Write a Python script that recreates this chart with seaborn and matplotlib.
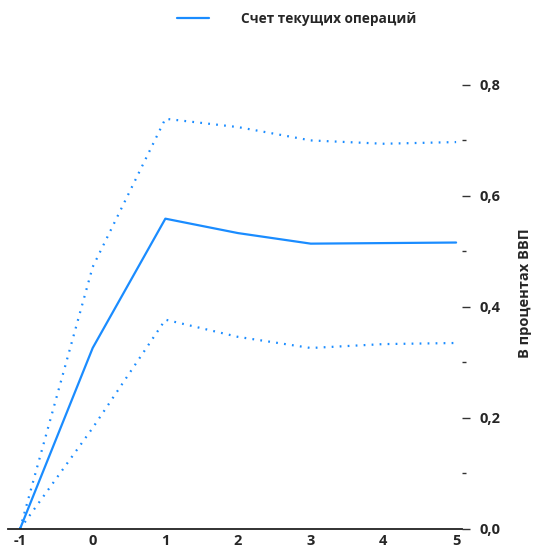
import matplotlib.pyplot as plt
import seaborn as sns
import pandas as pd

years = [-1, 0, 1, 2, 3, 4, 5]
current_account = [0.0, 0.326, 0.559, 0.533, 0.514, 0.515, 0.516]
upper_band = [0.0, 0.472, 0.739, 0.724, 0.700, 0.694, 0.697]
lower_band = [0.0, 0.182, 0.377, 0.346, 0.326, 0.333, 0.335]

y_major = [0.0, 0.2, 0.4, 0.6, 0.8]
y_minor = [0.1, 0.3, 0.5, 0.7]
y_labels = ['0,0', '0,2', '0,4', '0,6', '0,8']

sns.set_style('white')
plt.rcParams['font.family'] = ['Open Sans', 'DejaVu Sans']

data = pd.DataFrame({'year': years, 'ca': current_account,
                     'hi': upper_band, 'lo': lower_band})

blue = '#1a8cff'
fig = plt.figure(figsize=(5.34, 5.55), dpi=100)
ax = fig.add_axes([0.015, 0.047, 0.85, 0.85])

sns.lineplot(x='year', y='ca', data=data, color=blue, linewidth=1.6,
             ax=ax, label='Счет текущих операций')
for col in ['hi', 'lo']:
    sns.lineplot(x='year', y=col, data=data, color=blue, linewidth=1.6,
                 ax=ax, dashes=False)
    ax.lines[-1].set_dashes((0.8, 2.8))

ax.set_xlim(-1.165, 5.08)
ax.set_ylim(0, 0.85)

for side in ['top', 'right', 'left']:
    ax.spines[side].set_visible(False)
ax.spines['bottom'].set_color('#222222')
ax.spines['bottom'].set_linewidth(1.3)

ax.set_xticks(years)
ax.set_xticklabels([str(y) for y in years], fontweight='bold', fontsize=10.5)
ax.tick_params(axis='x', direction='in', length=6, width=1, color='#333333', pad=4)

ax.yaxis.tick_right()
ax.set_yticks(y_major)
ax.set_yticks(y_minor, minor=True)
ax.set_yticklabels(y_labels, fontweight='bold', fontsize=10.5)
ax.tick_params(axis='y', which='major', direction='out', length=6, width=1,
               color='#333333', pad=7)
ax.tick_params(axis='y', which='minor', direction='out', length=3, width=1,
               color='#333333')
ax.yaxis.set_label_position('right')
ax.set_ylabel('В процентах ВВП', fontweight='bold', fontsize=10.5, labelpad=12)
ax.set_xlabel('')

handles, labels = ax.get_legend_handles_labels()
ax.get_legend().remove()
fig.legend(handles, labels, loc='center', bbox_to_anchor=(0.555, 0.966),
           frameon=False, handlelength=2.4, handletextpad=2.3,
           prop={'weight': 'bold', 'size': 9.8})

fig.savefig('out.png', dpi=100)
